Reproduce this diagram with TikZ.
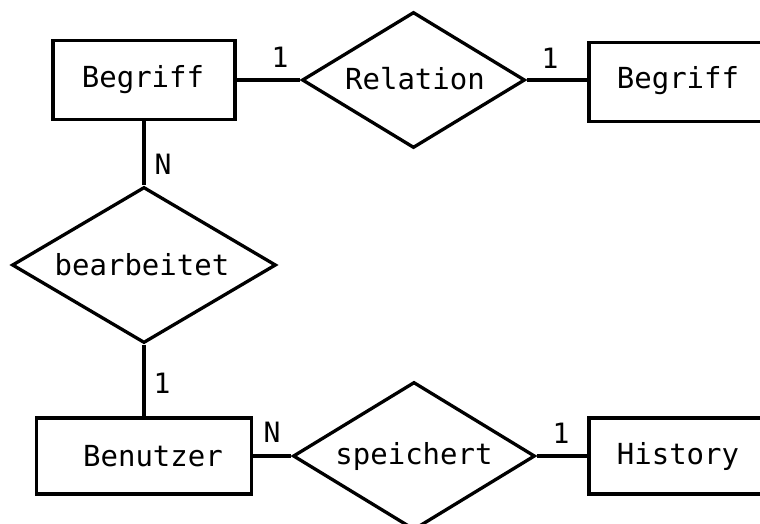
\documentclass[tikz,border=0pt]{standalone}
\usepackage{fontspec}
\setmonofont{DejaVu Sans Mono}
\usetikzlibrary{shapes.geometric}
\tikzset{
  entity/.style={draw, line width=3.3pt, rectangle, inner sep=0pt},
  relship/.style={draw, line width=3.3pt, diamond, inner sep=0pt, fill=white},
  txt/.style={inner sep=0pt, font=\ttfamily\fontsize{29}{32}\selectfont},
  card/.style={inner sep=0pt, font=\ttfamily\fontsize{28}{30}\selectfont},
  conn/.style={line width=3.3pt},
}
\begin{document}
\begin{tikzpicture}[x=1pt, y=-1pt]
\useasboundingbox (0,0) rectangle (760,524);
\clip (0,0) rectangle (760,524);
% entities
\node[entity, minimum width=182pt, minimum height=79pt] (begriffA) at (144,80) {};
\node[txt] (begriffAlbl) at (143,80) {Begriff};
\node[entity, minimum width=182pt, minimum height=79pt] (begriffB) at (680,82) {};
\node[txt] (begriffBlbl) at (678,81) {Begriff};
\node[entity, minimum width=215pt, minimum height=76pt] (benutzer) at (144,456) {};
\node[txt] (benutzerlbl) at (153,456) {Benutzer};
\node[entity, minimum width=182pt, minimum height=76pt] (history) at (680,456) {};
\node[txt] (historylbl) at (678,456) {History};
% relationships
\node[relship, minimum width=223pt, minimum height=136pt] (relation) at (413.5,80) {};
\node[txt] (relationlbl) at (415,79) {Relation};
\node[relship, minimum width=264pt, minimum height=156pt] (bearbeitet) at (144,265) {};
\node[txt] (bearbeitetlbl) at (142,265) {bearbeitet};
\node[relship, minimum width=242pt, minimum height=148pt] (speichert) at (414,456) {};
\node[txt] (speichertlbl) at (414,456) {speichert};
% connectors
\draw[conn] (begriffA.east) -- (relation.west);
\draw[conn] (relation.east) -- (begriffB.west |- relation.east);
\draw[conn] (begriffA.south) -- (bearbeitet.north);
\draw[conn] (bearbeitet.south) -- (benutzer.north -| bearbeitet.south);
\draw[conn] (benutzer.east) -- (speichert.west);
\draw[conn] (speichert.east) -- (history.west);
% cardinalities
\node[card] (c1) at (280,57) {1};
\node[card] (c2) at (550,58) {1};
\node[card] (c3) at (163,164) {N};
\node[card] (c4) at (162,383) {1};
\node[card] (c5) at (272,432) {N};
\node[card] (c6) at (561,433) {1};
\end{tikzpicture}
\end{document}
